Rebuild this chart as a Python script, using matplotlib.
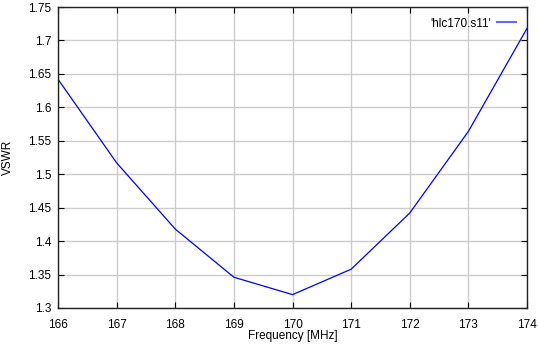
import matplotlib
matplotlib.use("Agg")
import matplotlib.pyplot as plt
import numpy as np

# frequency points and measured VSWR
freq_mhz = [166, 167, 168, 169, 170, 171, 172, 173, 174]
vswr = [1.642, 1.517, 1.418, 1.346, 1.320, 1.358, 1.442, 1.564, 1.718]
series_name = "'hlc170.s11'"

xticks = np.arange(166, 175, 1)
yticks = [1.3, 1.35, 1.4, 1.45, 1.5, 1.55, 1.6, 1.65, 1.7, 1.75]
ytick_labels = ["1.3", "1.35", "1.4", "1.45", "1.5", "1.55", "1.6", "1.65", "1.7", "1.75"]

plt.rcParams['font.family'] = ['Liberation Sans', 'DejaVu Sans']
plt.rcParams['font.size'] = 8.5

fig = plt.figure(figsize=(5.38, 3.45), dpi=100)
ax = fig.add_axes([58/538, 37/345, (527-58)/538, (338-37)/345])

ax.plot(freq_mhz, vswr, color='#0000ff', lw=0.9, label=series_name)

ax.set_xlim(166, 174)
ax.set_ylim(1.3, 1.75)
ax.set_xticks(xticks)
ax.set_yticks(yticks)
ax.set_yticklabels(ytick_labels)
ax.grid(True, color='#cccccc', lw=1.0)
ax.set_axisbelow(True)
ax.tick_params(direction='in', top=True, right=True, length=4, width=0.8,
               colors='black')
ax.tick_params(axis='x', pad=8)
ax.tick_params(axis='y', pad=5)
for s in ax.spines.values():
    s.set_linewidth(1.0)
    s.set_color('#222222')

ax.set_xlabel("Frequency [MHz]")
ax.xaxis.set_label_coords(0.5, -0.074)
ax.set_ylabel("VSWR")
ax.yaxis.set_label_coords(-0.094, 0.5)

leg = ax.legend(loc='upper right', frameon=False, markerfirst=False,
                handlelength=1.6, handletextpad=0.5, borderaxespad=0.5)
for h in leg.get_lines():
    h.set_color('#6666ff')
    h.set_linewidth(1.5)

fig.savefig("out.png", dpi=100)
plt.close(fig)
